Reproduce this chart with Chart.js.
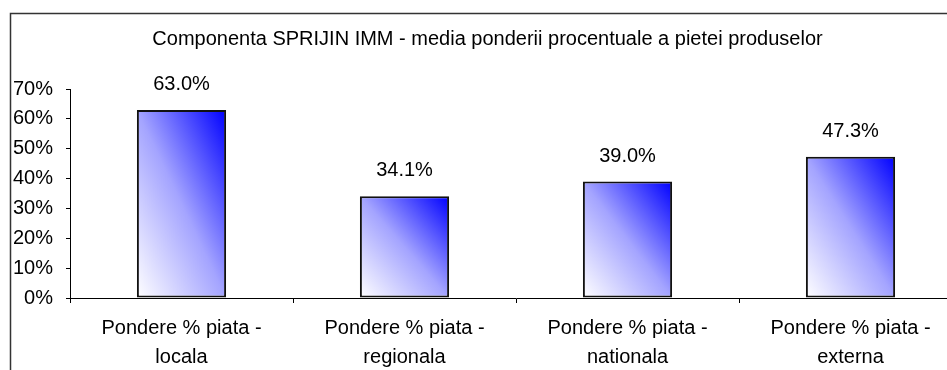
<!DOCTYPE html>
<html>
<head>
<meta charset="utf-8">
<script src="https://cdn.jsdelivr.net/npm/chart.js@4.4.1/dist/chart.umd.min.js"></script>
<style>
  html, body { margin: 0; padding: 0; background: #fff; overflow: hidden; }
  #wrap { width: 975px; height: 370px; }
</style>
</head>
<body>
<div id="wrap"><canvas id="graph" width="975" height="370"></canvas></div>
<script>
// Chart data
const chartTitle = 'Componenta SPRIJIN IMM - media ponderii procentuale a pietei produselor';
const categories = [
  ['Pondere % piata -', 'locala'],
  ['Pondere % piata -', 'regionala'],
  ['Pondere % piata -', 'nationala'],
  ['Pondere % piata -', 'externa'],
];
const shareValues = [63.0, 34.1, 39.0, 47.3];
const yTicks = [0, 10, 20, 30, 40, 50, 60, 70];

const BAR_PCT = 0.4;
const FONT = "'Liberation Sans', Arial, sans-serif";

// Diagonal white -> blue fill, one gradient per bar
function barGradient(context) {
  const chart = context.chart;
  const xs = chart.scales.x;
  const ys = chart.scales.y;
  if (!xs || !ys || context.dataIndex === undefined) return '#8080ff';
  const w = (xs.width / categories.length) * BAR_PCT;
  const left = xs.getPixelForValue(context.dataIndex) - w / 2;
  const top = ys.getPixelForValue(shareValues[context.dataIndex]);
  const bottom = ys.getPixelForValue(0);
  const h = bottom - top;
  const k = (2 * w * h) / (w * w + h * h);
  const pts = [left, bottom, left + h * k, bottom - w * k];
  if (!pts.every(Number.isFinite) || h <= 0) return '#8080ff';
  const g = chart.ctx.createLinearGradient(...pts);
  g.addColorStop(0, '#ffffff');
  g.addColorStop(0.5, '#a4a4ff');
  g.addColorStop(1, '#0000ff');
  return g;
}

// Outer frame of the chart
const framePlugin = {
  id: 'frame',
  beforeDraw(chart) {
    const c = chart.ctx;
    c.save();
    c.fillStyle = '#fff';
    c.fillRect(0, 0, chart.width, chart.height);
    c.strokeStyle = '#333';
    c.lineWidth = 1.5;
    c.beginPath();
    c.moveTo(10.5, chart.height + 2);
    c.lineTo(10.5, 13.5);
    c.lineTo(chart.width - 3, 13.5);
    c.stroke();
    c.restore();
  },
};

// Value labels above each bar
const valueLabels = {
  id: 'valueLabels',
  afterDatasetsDraw(chart) {
    const c = chart.ctx;
    const meta = chart.getDatasetMeta(0);
    c.save();
    c.font = `20px ${FONT}`;
    c.fillStyle = '#000';
    c.textAlign = 'center';
    c.textBaseline = 'alphabetic';
    meta.data.forEach((bar, i) => {
      c.fillText(shareValues[i].toFixed(1) + '%', bar.x, bar.y - 20);
    });
    c.restore();
  },
};

const ctx = document.getElementById('graph').getContext('2d');
const chart = new Chart(ctx, {
  type: 'bar',
  data: {
    labels: categories,
    datasets: [
      {
        data: shareValues,
        backgroundColor: barGradient,
        borderColor: '#111',
        borderWidth: 2,
        borderSkipped: false,
        barPercentage: BAR_PCT,
        categoryPercentage: 1,
      },
    ],
  },
  plugins: [framePlugin, valueLabels],
  options: {
    responsive: false,
    animation: false,
    layout: { padding: 0 },
    plugins: {
      legend: { display: false },
      tooltip: { enabled: false },
      title: {
        display: true,
        text: chartTitle,
        color: '#000',
        font: { family: FONT, size: 20, weight: 'normal' },
        padding: { top: 27, bottom: 38 },
      },
    },
    scales: {
      x: {
        offset: true,
        grid: {
          offset: true,
          drawOnChartArea: false,
          tickLength: 5,
          color: '#000',
        },
        border: { color: '#000' },
        ticks: {
          color: '#000',
          padding: 11,
          maxRotation: 0,
          autoSkip: false,
          font: { family: FONT, size: 20, lineHeight: 1.45 },
        },
        afterFit: (s) => { s.height = 72; },
      },
      y: {
        min: 0,
        max: 70,
        afterBuildTicks: (s) => { s.ticks = yTicks.map((v) => ({ value: v })); },
        grid: {
          drawOnChartArea: false,
          tickLength: 4,
          color: '#000',
        },
        border: { color: '#000' },
        ticks: {
          color: '#000',
          padding: 13,
          font: { family: FONT, size: 20 },
          callback: (v) => v + '%',
        },
        afterFit: (s) => { s.width = 70; },
      },
      // empty right-hand strip so the plot ends short of the canvas edge
      y2: {
        position: 'right',
        grid: { display: false },
        border: { display: false },
        ticks: { display: false },
        afterFit: (s) => { s.width = 13; },
      },
    },
  },
});
</script>
</body>
</html>
